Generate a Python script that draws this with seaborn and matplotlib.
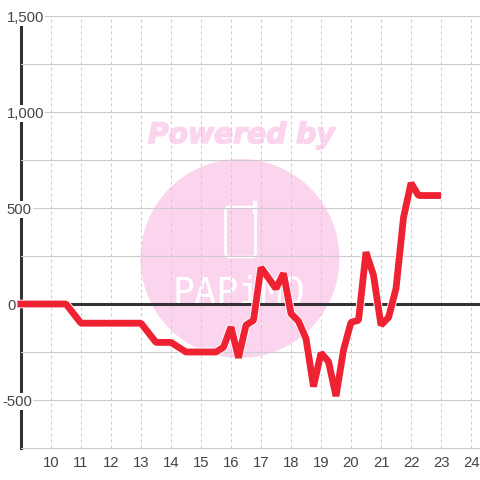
import numpy as np
import pandas as pd
import matplotlib
matplotlib.use("Agg")
import matplotlib.pyplot as plt
import matplotlib.patheffects as pe
from matplotlib.patches import Circle, FancyBboxPatch, Rectangle
from matplotlib.transforms import Affine2D
import seaborn as sns

hours = [8.88, 10.5, 10.75, 11, 13, 13.5, 14, 14.5, 15.5, 15.75, 16, 16.25, 16.5, 16.75,
         17, 17.5, 17.75, 18, 18.25, 18.5, 18.75, 19, 19.25, 19.5, 19.75,
         20, 20.25, 20.5, 20.75, 21, 21.25, 21.5, 21.75, 22, 22.25, 23]
values = [0, 0, -50, -100, -100, -200, -200, -250, -250, -225, -120, -280, -110, -85,
          190, 80, 160, -50, -90, -180, -430, -255, -300, -480, -240,
          -95, -85, 270, 150, -110, -70, 80, 450, 630, 565, 565]
x_ticks = list(range(10, 25))
y_major = [-500, 0, 500, 1000, 1500]
y_labels = ["-500", "0", "500", "1,000", "1,500"]
y_minor = [-750, -250, 250, 750, 1250]

sns.set_theme(style="white")
plt.rcParams["font.family"] = ["Liberation Sans", "DejaVu Sans"]

fig = plt.figure(figsize=(4.8, 4.8), dpi=100, facecolor="white")
ax = fig.add_axes([20.5 / 480, 32 / 480, 459.5 / 480, 432 / 480])
ax.set_xlim(10 - 30.5 / 30, 10 + 429 / 30)
ax.set_ylim(-750, 1500)
ax.patch.set_alpha(0)

px = Affine2D().scale(1, -1).translate(0, 480)
PINK = "#fbd5ee"
ax.add_patch(Circle((240, 258.5), 99.5, transform=px, fc=PINK, ec="none", zorder=0.1, clip_on=False))
ax.text(241.5, 135, "Powered by", transform=px, family="DejaVu Sans", weight="bold", style="italic",
        fontsize=20.3, color=PINK, ha="center", va="center", zorder=0.1,
        path_effects=[pe.withStroke(linewidth=1.2, foreground=PINK)])
ax.add_patch(FancyBboxPatch((225.5, 207), 30, 50, boxstyle="round,pad=0,rounding_size=4", transform=px,
                            fc="none", ec="white", lw=1.9, zorder=0.2))
ax.add_patch(Rectangle((253, 200.5), 2.5, 12, transform=px, fc="white", ec="white", lw=1, zorder=0.2))
ax.text(239, 303, "PAPiMO", transform=px, family="DejaVu Sans Mono", fontsize=26.5,
        color="white", ha="center", va="baseline", zorder=0.2)

ax.set_xticks(x_ticks)
ax.set_yticks(y_major, y_labels)
ax.set_yticks(y_minor, minor=True)
ax.set_axisbelow(True)
ax.grid(True, which="major", axis="x", color="#cccccc", lw=0.72, ls=(0, (3, 3)))
ax.grid(True, which="both", axis="y", color="#cccccc", lw=0.8, ls="-")
ax.tick_params(axis="both", which="both", length=0, labelsize=10.7, labelcolor="#444444")
ax.tick_params(axis="x", pad=5.5)
for t, lab in zip(ax.yaxis.get_major_ticks(), y_labels):
    t.set_pad(9.8 if lab != "-500" else 13.2)
    t.label1.set_ha("left")
    t.label1.set_bbox(dict(fc="white", ec="none", pad=0.8))
for t in ax.yaxis.get_minor_ticks() + ax.yaxis.get_major_ticks():
    t.gridline.set_clip_on(False)

for name in ["top", "right", "bottom"]:
    ax.spines[name].set_visible(False)
ax.spines["left"].set_color("#333333")
ax.spines["left"].set_linewidth(2.2)
ax.spines["left"].set_zorder(0.4)

ax.axhline(0, color="#333333", lw=2.2, zorder=1)

df = pd.DataFrame({"hour": hours, "value": values})
sns.lineplot(data=df, x="hour", y="value", ax=ax, color="#ee2233", lw=4.9, sort=False,
             estimator=None, zorder=3, clip_on=False, solid_joinstyle="bevel", solid_capstyle="butt",
             path_effects=[pe.Stroke(linewidth=6.2, foreground="white"), pe.Normal()])
ax.set_xlabel("")
ax.set_ylabel("")

fig.savefig("out.png", dpi=100, facecolor="white")
